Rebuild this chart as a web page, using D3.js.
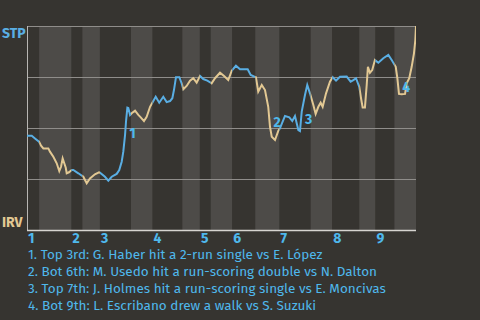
<!DOCTYPE html>
<html>
<head>
<meta charset="utf-8">
<script src="https://cdn.jsdelivr.net/npm/d3@7"></script>
<style>
  body { margin: 0; background: #363430; }
  svg { display: block; font-family: "Fira Sans", "Open Sans", sans-serif; }
</style>
</head>
<body>
<svg id="fig1" width="480" height="320"></svg>
<script>
// half-inning boundaries, in pitch count
const halfBounds = [0, 9, 33, 41, 54, 77, 93, 115, 128, 136, 152, 169, 187, 210, 226, 246, 258, 272, 288];
const innings = [1, 2, 3, 4, 5, 6, 7, 8, 9];
const gridValues = [0.25, 0.5, 0.75, 1];

const pitch = [0, 3.5, 5.9, 8.9, 10.4, 12.1, 15.8, 17, 19.5, 22, 23.9, 25.2, 26.4, 27.6, 28.7, 29.4, 31.1, 33.1,
  34.3, 38, 41.7, 44.2, 46.6, 50.3, 53.3, 54, 57.7, 60.2, 62.7, 66.4, 68.3, 70.1, 71.3, 72.6, 73.3, 74.3, 75,
  76.3, 77.5, 80, 82.4, 84.2, 86.6, 88.6, 91.1, 92.8, 95.3, 97.9, 100.9, 103.4, 105.9, 107.6, 108.8, 110.3,
  112.8, 114.5, 115.7, 118.2, 120.7, 123.1, 125.6, 128.1, 130.5, 133.5, 136.7, 139.2, 142.9, 145.9, 149,
  151.6, 154.7, 157.7, 163.4, 165.6, 168.8, 169.5, 171.2, 173.8, 176.2, 178.6, 179.9, 181.2, 183.6, 186.1,
  187.3, 191, 194.2, 196.4, 198.4, 200.9, 202.1, 203.4, 205.8, 207.5, 209.5, 212, 213.7, 215.7, 217.4, 218.9,
  221.4, 224.3, 226.3, 228.8, 231.7, 236.7, 239.6, 241.6, 243.6, 246, 247.3, 248.5, 250.2, 251.5, 252.4,
  253.9, 255.6, 257.6, 260.1, 263.8, 267.5, 270, 273, 274.2, 275.4, 277.4, 279.9, 281.1, 283, 284.8, 286.5,
  287.5, 288];
const winProb = [0.462, 0.462, 0.449, 0.433, 0.413, 0.4, 0.4, 0.384, 0.359, 0.327, 0.289, 0.31, 0.351, 0.327,
  0.305, 0.278, 0.283, 0.294, 0.294, 0.278, 0.261, 0.229, 0.253, 0.273, 0.283, 0.281, 0.261, 0.242, 0.261,
  0.275, 0.294, 0.335, 0.384, 0.466, 0.531, 0.6, 0.598, 0.564, 0.572, 0.585, 0.564, 0.552, 0.534, 0.555,
  0.604, 0.624, 0.653, 0.624, 0.653, 0.627, 0.632, 0.646, 0.686, 0.749, 0.749, 0.719, 0.69, 0.706, 0.732,
  0.744, 0.722, 0.755, 0.74, 0.732, 0.719, 0.744, 0.771, 0.755, 0.735, 0.781, 0.805, 0.788, 0.788, 0.76,
  0.751, 0.749, 0.678, 0.711, 0.686, 0.604, 0.506, 0.457, 0.441, 0.487, 0.499, 0.559, 0.552, 0.534, 0.559,
  0.49, 0.485, 0.58, 0.662, 0.711, 0.67, 0.613, 0.569, 0.604, 0.624, 0.604, 0.67, 0.727, 0.749, 0.732,
  0.751, 0.752, 0.727, 0.735, 0.744, 0.702, 0.646, 0.601, 0.601, 0.711, 0.8, 0.771, 0.784, 0.833, 0.82,
  0.842, 0.858, 0.833, 0.8, 0.744, 0.667, 0.665, 0.667, 0.719, 0.744, 0.8, 0.866, 0.931, 1];

const eventPitch = [72.7, 179.6, 202.9, 274.9];
const eventText = [
  '1. Top 3rd: G. Haber hit a 2-run single vs E. López',
  '2. Bot 6th: M. Usedo hit a run-scoring double vs N. Dalton',
  '3. Top 7th: J. Holmes hit a run-scoring single vs E. Moncivas',
  '4. Bot 9th: L. Escribano drew a walk vs S. Suzuki'
];
const teams = ['STP', 'IRV'];

const blue = '#5aaee3';
const tan = '#e2c893';
const svg = d3.select('#fig1');
const margin = { top: 26, right: 64, bottom: 90, left: 27 };
const width = 480, height = 320;

const x = d3.scaleLinear().domain([0, d3.max(halfBounds)]).range([margin.left, width - margin.right]);
const y = d3.scaleLinear().domain([0, 1]).range([height - margin.bottom, margin.top]);

const data = pitch.map((p, i) => ({ p, v: winProb[i] }));
const halves = d3.pairs(halfBounds).map(([a, b], i) => ({ a, b, top: i % 2 === 0 }));

// bands
svg.append('g').selectAll('rect').data(halves).join('rect')
  .attr('x', d => x(d.a)).attr('width', d => x(d.b) - x(d.a))
  .attr('y', y(1)).attr('height', y(0) - y(1))
  .attr('fill', d => d.top ? '#363430' : '#4d4b48');

// grid
svg.append('g').selectAll('line').data(gridValues).join('line')
  .attr('x1', x(0)).attr('x2', x(d3.max(halfBounds)))
  .attr('y1', d => y(d) + 0.5).attr('y2', d => y(d) + 0.5)
  .attr('stroke', '#8f8d8a').attr('stroke-width', 1);

svg.append('line').attr('x1', x(0) + 0.5).attr('x2', x(0) + 0.5).attr('y1', y(1)).attr('y2', y(0))
  .attr('stroke', '#b8b6b3');
svg.append('line').attr('x1', x(0)).attr('x2', x(d3.max(halfBounds))).attr('y1', y(0) + 0.5).attr('y2', y(0) + 0.5)
  .attr('stroke', '#d6d4d0').attr('stroke-width', 1.5);

// line, coloured by half inning
const line = d3.line().x(d => x(d.p)).y(d => y(d.v));
const defs = svg.append('defs');
halves.forEach((h, i) => {
  defs.append('clipPath').attr('id', 'half' + i)
    .append('rect').attr('x', x(h.a)).attr('width', x(h.b) - x(h.a))
    .attr('y', 0).attr('height', height);
  svg.append('path').datum(data)
    .attr('d', line)
    .attr('clip-path', `url(#half${i})`)
    .attr('fill', 'none')
    .attr('stroke', h.top ? blue : tan)
    .attr('stroke-width', 2)
    .attr('stroke-linejoin', 'miter');
});

// event markers
const wpAt = p => {
  const i = d3.bisector(d => d.p).left(data, p);
  const a = data[i - 1], b = data[i];
  return a.v + (b.v - a.v) * (p - a.p) / (b.p - a.p);
};
svg.append('g').selectAll('text').data(eventPitch).join('text')
  .attr('x', d => x(d) + 4)
  .attr('y', d => y(wpAt(d)))
  .attr('dy', '0.35em')
  .attr('fill', '#4fb8ec')
  .attr('font-size', 14)
  .attr('font-weight', 'bold')
  .text((d, i) => i + 1);

// team labels
svg.append('text').attr('x', 2).attr('y', y(1) + 12)
  .attr('fill', blue).attr('font-size', 14).attr('font-weight', 'bold').text(teams[0]);
svg.append('text').attr('x', 2).attr('y', y(0) - 3)
  .attr('fill', tan).attr('font-size', 14).attr('font-weight', 'bold').text(teams[1]);

// innings
svg.append('g').selectAll('text').data(innings).join('text')
  .attr('x', d => x(halfBounds[(d - 1) * 2]) + 1)
  .attr('y', y(0) + 13)
  .attr('fill', '#4fb8ec')
  .attr('font-size', 14)
  .attr('font-weight', 'bold')
  .text(d => d);

// captions
svg.append('g').selectAll('text').data(eventText).join('text')
  .attr('x', 28)
  .attr('y', (d, i) => 259 + i * 17)
  .attr('fill', '#4fb8ec')
  .attr('font-size', 13.5)
  .text(d => d);
</script>
</body>
</html>
